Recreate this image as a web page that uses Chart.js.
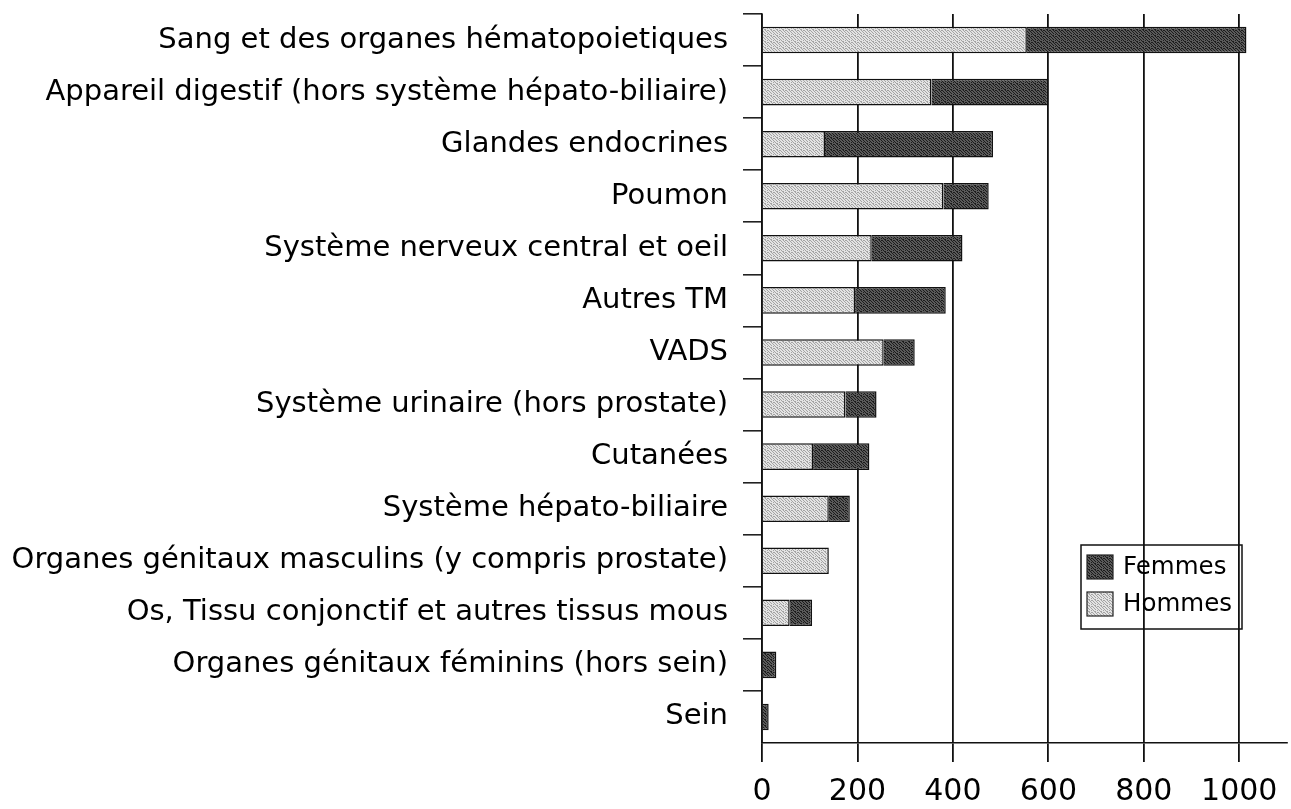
<!DOCTYPE html>
<html>
<head>
<meta charset="utf-8">
<script src="https://cdn.jsdelivr.net/npm/chart.js@4.4.1/dist/chart.umd.min.js"></script>
<style>
  html, body { margin: 0; padding: 0; background: #fff; }
  #wrap { width: 1291px; height: 809px; }
</style>
</head>
<body>
<div id="wrap"><canvas id="c" width="1291" height="809"></canvas></div>
<script>
const categories = [
  "Sang et des organes hématopoietiques",
  "Appareil digestif (hors système hépato-biliaire)",
  "Glandes endocrines",
  "Poumon",
  "Système nerveux central et oeil",
  "Autres TM",
  "VADS",
  "Système urinaire (hors prostate)",
  "Cutanées",
  "Système hépato-biliaire",
  "Organes génitaux masculins (y compris prostate)",
  "Os, Tissu conjonctif et autres tissus mous",
  "Organes génitaux féminins (hors sein)",
  "Sein"
];
const hommes = [555, 355, 132, 380, 230, 195, 255, 175, 107, 140, 140, 58, 0, 0];
const femmes = [460, 245, 352, 95, 190, 190, 65, 65, 118, 44, 0, 47, 30, 14];
const xTicks = [0, 200, 400, 600, 800, 1000];
const xMax = 1100;

function makePattern(light, dark, mask) {
  const n = mask.length;
  const cv = document.createElement('canvas');
  cv.width = n; cv.height = n;
  const g = cv.getContext('2d');
  for (let y = 0; y < n; y++) {
    for (let x = 0; x < n; x++) {
      g.fillStyle = mask[y][x] ? dark : light;
      g.fillRect(x, y, 1, 1);
    }
  }
  return g.createPattern(cv, 'repeat');
}
const mask = [
  [1,0,0,1,0,1],
  [0,1,0,0,1,0],
  [0,0,1,0,0,1],
  [1,0,0,1,0,0],
  [0,1,0,0,0,1],
  [0,0,1,1,0,0]
];
const lightFill = makePattern('#e4e4e4', '#a4a4a4', mask);
const darkFill = makePattern('#5a5a5a', '#1c1c1c', mask);

const FONT = "'DejaVu Sans', sans-serif";

const legendPlugin = {
  id: 'boxLegend',
  afterDatasetsDraw(chart) {
    const ctx = chart.ctx;
    const x = 1081, y = 545, w = 161, h = 84;
    ctx.save();
    ctx.strokeStyle = '#111';
    ctx.lineWidth = 1.5;
    ctx.strokeRect(x, y, w, h);
    const items = [
      { label: chart.data.datasets[1].label, fill: chart.data.datasets[1].backgroundColor },
      { label: chart.data.datasets[0].label, fill: chart.data.datasets[0].backgroundColor }
    ];
    ctx.font = "24.5px " + FONT;
    ctx.textBaseline = 'middle';
    items.forEach((it, i) => {
      const cy = y + 22 + i * 37;
      ctx.fillStyle = it.fill;
      ctx.fillRect(x + 6, cy - 12, 26, 24);
      ctx.strokeStyle = '#222';
      ctx.lineWidth = 1.2;
      ctx.strokeRect(x + 6, cy - 12, 26, 24);
      ctx.fillStyle = '#000';
      ctx.fillText(it.label, x + 42, cy + 1);
    });
    ctx.restore();
  }
};

new Chart(document.getElementById('c'), {
  type: 'bar',
  data: {
    labels: categories,
    datasets: [
      { label: 'Hommes', data: hommes, backgroundColor: lightFill, borderColor: '#111', borderWidth: 1.5,
        barPercentage: 0.51, categoryPercentage: 1.0 },
      { label: 'Femmes', data: femmes, backgroundColor: darkFill, borderColor: '#111', borderWidth: 1.5,
        barPercentage: 0.51, categoryPercentage: 1.0 }
    ]
  },
  options: {
    indexAxis: 'y',
    responsive: false,
    animation: false,
    layout: { padding: { top: 0, right: 4, left: 0, bottom: 0 } },
    plugins: { legend: { display: false }, tooltip: { enabled: false } },
    scales: {
      x: {
        stacked: true,
        min: 0,
        max: xMax,
        afterBuildTicks(scale) { scale.ticks = xTicks.map(v => ({ value: v })); },
        afterFit(scale) { scale.height = 66; },
        border: { display: true, color: '#111', width: 1.6 },
        grid: { color: '#111', lineWidth: 1.8, tickLength: 19, drawTicks: true },
        ticks: { color: '#000', font: { family: FONT, size: 30 }, padding: 12, maxRotation: 0,
                 callback: (v) => String(v) }
      },
      y: {
        stacked: true,
        afterFit(scale) { scale.width = 762; scale.paddingTop = 14; },
        border: { display: true, color: '#111', width: 1.6 },
        grid: { offset: true, drawOnChartArea: false, lineWidth: 1.6, tickLength: 19,
                color: (c) => (c.tick ? '#222' : 'rgba(0,0,0,0)') },
        ticks: { color: '#000', font: { family: FONT, size: 29 }, padding: 15, autoSkip: false }
      }
    }
  },
  plugins: [legendPlugin]
});
</script>
</body>
</html>
